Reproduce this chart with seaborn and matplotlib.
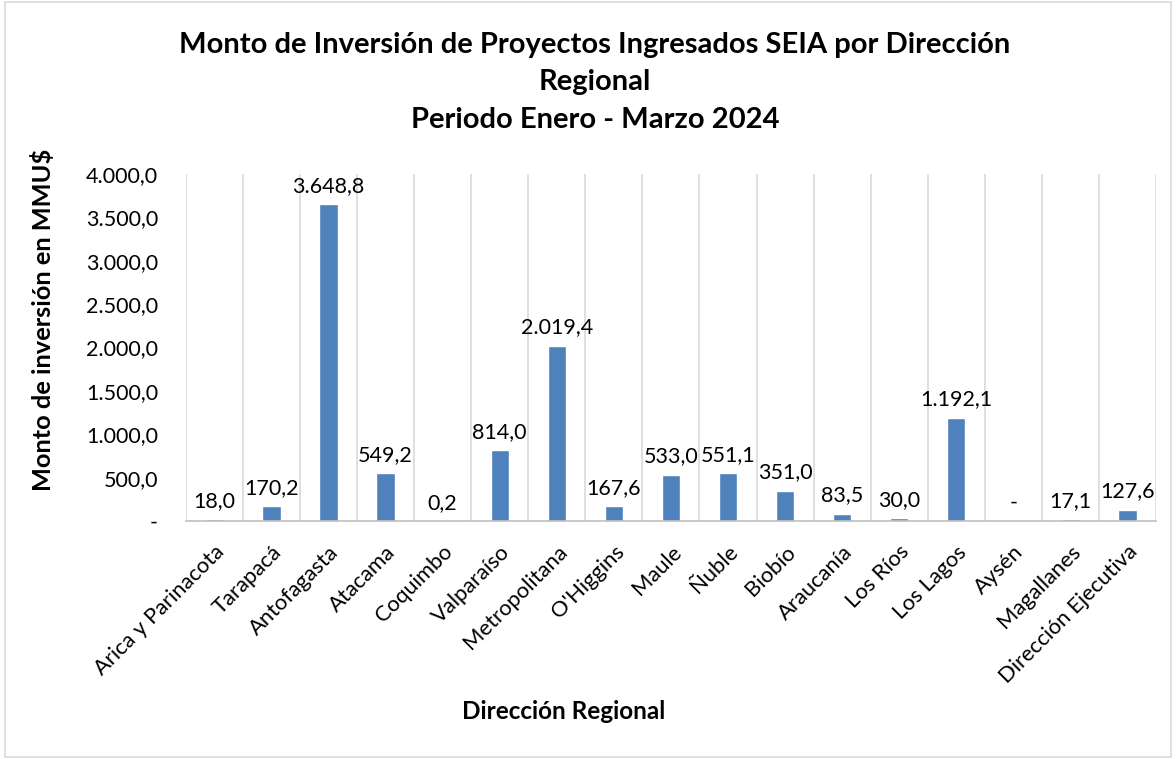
import matplotlib
matplotlib.use("Agg")
import matplotlib.pyplot as plt
import matplotlib.patches as mpatches
import seaborn as sns
import pandas as pd
from matplotlib.ticker import FuncFormatter, MultipleLocator

# Datos
regiones = ["Arica y Parinacota", "Tarapacá", "Antofagasta", "Atacama", "Coquimbo",
            "Valparaíso", "Metropolitana", "O'Higgins", "Maule", "Ñuble", "Biobío",
            "Araucanía", "Los Ríos", "Los Lagos", "Aysén", "Magallanes",
            "Dirección Ejecutiva"]
montos = [18.0, 170.2, 3648.8, 549.2, 0.2, 814.0, 2019.4, 167.6, 533.0, 551.1,
          351.0, 83.5, 30.0, 1192.1, 0.0, 17.1, 127.6]

titulo = ("Monto de Inversión de Proyectos Ingresados SEIA por Dirección\n"
          "Regional\nPeriodo Enero - Marzo 2024")

df = pd.DataFrame({"region": regiones, "monto": montos})


def formato_es(v, pos=None):
    # formato chileno: punto para miles, coma para decimales, cero como guion
    if abs(v) < 1e-9:
        return "-"
    s = f"{v:,.1f}"
    return s.replace(",", "X").replace(".", ",").replace("X", ".")


sns.set_theme(style="white")
plt.rcParams["font.family"] = ["Lato", "DejaVu Sans"]

fig = plt.figure(figsize=(11.76, 7.59), dpi=100)
ax = fig.add_axes([0.158, 0.3136, 0.825, 0.4572])

sns.barplot(data=df, x="region", y="monto", color="#4F81BD", saturation=1,
            width=0.32, ax=ax)

ax.set_xlim(-0.5, len(regiones) - 0.5)
ax.set_ylim(0, 4000)
ax.yaxis.set_major_locator(MultipleLocator(500))
ax.yaxis.set_major_formatter(FuncFormatter(formato_es))

# lineas verticales entre categorias (estilo Excel)
ax.set_xticks([i - 0.5 for i in range(len(regiones) + 1)], minor=True)
ax.grid(True, which="minor", axis="x", color="#D9D9D9", linewidth=1.2)
ax.grid(False, which="major")
ax.tick_params(axis="both", which="both", length=0)

for side in ["top", "right", "left"]:
    ax.spines[side].set_visible(False)
ax.spines["bottom"].set_color("#BFBFBF")
ax.spines["bottom"].set_linewidth(1.2)

ax.set_xticks(range(len(regiones)))
ax.set_xticklabels(regiones, rotation=45, ha="right", rotation_mode="anchor",
                   fontsize=15.8, color="#000000")
ax.tick_params(axis="x", pad=15)
ax.tick_params(axis="y", labelsize=15.5, labelcolor="#000000", pad=20)

etiquetas = [formato_es(v) for v in montos]
ax.bar_label(ax.containers[0], labels=etiquetas, padding=6, fontsize=15.5,
             color="#000000")

ax.set_xlabel("Dirección Regional", fontsize=17.5, fontweight="bold",
              color="#000000")
ax.xaxis.set_label_coords(0.389, -0.55)
ax.xaxis.label.set_va("center")
ax.set_ylabel("Monto de inversión en MMU$", fontsize=18.3, fontweight="bold",
              color="#000000")
ax.yaxis.set_label_coords(-0.147, 0.58)
ax.yaxis.label.set_va("center")

fig.text(0.506, 0.958, titulo, ha="center", va="top", fontsize=21,
         fontweight="bold", color="#000000", linespacing=1.55)

# borde exterior del grafico
fig.patches.append(mpatches.Rectangle((0.004, 0.002), 0.992, 0.996,
                                      transform=fig.transFigure, fill=False,
                                      edgecolor="#D9D9D9", linewidth=1.2))

fig.savefig("out.png", dpi=100)
